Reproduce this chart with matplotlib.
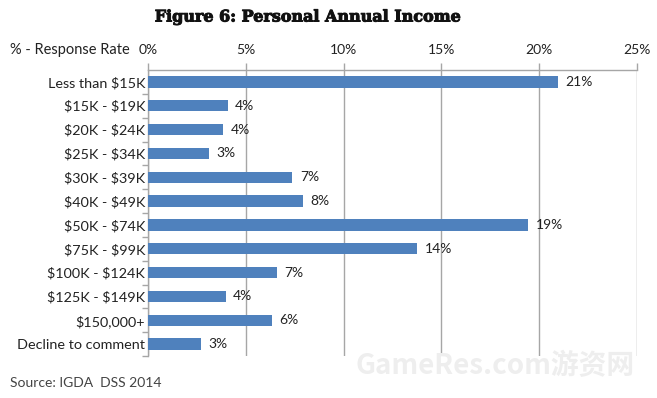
import matplotlib
matplotlib.use("Agg")
import matplotlib.pyplot as plt
import matplotlib.patheffects as pe
from matplotlib.ticker import FixedLocator

categories = ["Less than $15K", "$15K - $19K", "$20K - $24K", "$25K - $34K",
              "$30K - $39K", "$40K - $49K", "$50K - $74K", "$75K - $99K",
              "$100K - $124K", "$125K - $149K", "$150,000+", "Decline to comment"]
values = [20.95, 4.07, 3.83, 3.10, 7.38, 7.94, 19.45, 13.77, 6.58, 3.97, 6.32, 2.73]
labels = ["21%", "4%", "4%", "3%", "7%", "8%", "19%", "14%", "7%", "4%", "6%", "3%"]
xticks = [0, 5, 10, 15, 20, 25]
xticklabels = ["0%", "5%", "10%", "15%", "20%", "25%"]

plt.rcParams['font.family'] = ['Lato', 'DejaVu Sans']
text_color = "#222222"
grid_color = "#a6a6a6"
bar_color = "#4f81bd"
fs = 10

fig = plt.figure(figsize=(6.57, 3.98), dpi=100)
ax = fig.add_axes([148/657, 1-356/398, (637-148)/657, (356-70)/398])

n = len(categories)
ypos = list(range(n))
ax.barh(ypos, values, height=0.47, color=bar_color, zorder=3)
ax.set_ylim(n - 0.5, -0.5)
ax.set_xlim(0, 25)

for y, v, lab in zip(ypos, values, labels):
    ax.text(v + 0.38, y, lab, va="center", ha="left", fontsize=fs, color=text_color, zorder=4)

ax.xaxis.tick_top()
ax.set_xticks(xticks)
ax.set_xticklabels(xticklabels, fontsize=fs, color=text_color)
ax.tick_params(axis="x", length=5, color=grid_color, width=1, pad=5)
ax.grid(axis="x", color=grid_color, linewidth=1, zorder=0)
ax.set_yticks(ypos)
ax.set_yticklabels([c.replace("$", r"\$") for c in categories], fontsize=10.4, color=text_color)
ax.tick_params(axis="y", length=0, pad=2)
ax.yaxis.set_minor_locator(FixedLocator([i + 0.5 for i in range(n)]))
ax.tick_params(axis="y", which="minor", length=4, color=grid_color, width=1)

for s in ["right", "bottom"]:
    ax.spines[s].set_visible(False)
for s in ["top", "left"]:
    ax.spines[s].set_color(grid_color)
    ax.spines[s].set_linewidth(1)

fig.text(308/657, 1-17/398, "Figure 6: Personal Annual Income", ha="center", va="center",
         fontsize=11.5, fontweight="bold", family="DejaVu Serif", color="#111111",
         path_effects=[pe.withStroke(linewidth=0.7, foreground="#111111")])
fig.text(10/657, 1-50/398, "% - Response Rate", ha="left", va="center",
         fontsize=10.5, color=text_color)
fig.text(10/657, 1-383/398, "Source: IGDA  DSS 2014", ha="left", va="center",
         fontsize=10, color="#444444")
fig.text(495/657, 1-366/398, "GameRes.com游资网", ha="center", va="center",
         fontsize=20, fontweight="bold", color="#eeeeee",
         family=["Noto Sans CJK SC", "DejaVu Sans"], zorder=0)

fig.savefig("out.png", dpi=100, facecolor="white")
